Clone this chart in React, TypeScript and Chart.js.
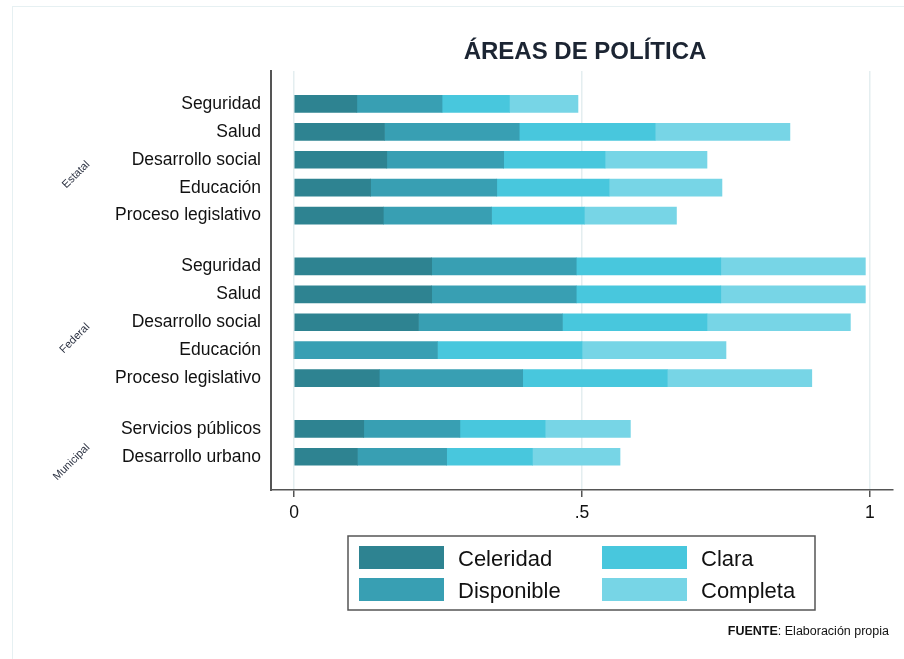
import React, { useEffect, useRef } from "react";
import { Chart, registerables } from "chart.js";

Chart.register(...registerables);

// ---- data ----
const GROUPS = ["Estatal", "Federal", "Municipal"];
const GROUP_SIZES = [5, 5, 2];
const CATEGORIES = [
  "Seguridad", "Salud", "Desarrollo social", "Educación", "Proceso legislativo",
  "Seguridad", "Salud", "Desarrollo social", "Educación", "Proceso legislativo",
  "Servicios públicos", "Desarrollo urbano",
];
const SERIES = ["Celeridad", "Disponible", "Clara", "Completa"];
const CELERIDAD = [0.109, 0.157, 0.161, 0.133, 0.155, 0.239, 0.239, 0.216, 0.0, 0.148, 0.121, 0.11];
const DISPONIBLE = [0.148, 0.234, 0.203, 0.219, 0.188, 0.251, 0.251, 0.25, 0.249, 0.249, 0.167, 0.155];
const CLARA = [0.117, 0.236, 0.176, 0.195, 0.161, 0.251, 0.251, 0.251, 0.251, 0.251, 0.148, 0.149];
const COMPLETA = [0.119, 0.234, 0.177, 0.196, 0.16, 0.251, 0.251, 0.249, 0.25, 0.251, 0.148, 0.152];
const X_TICKS = [0, 0.5, 1];
const X_TICK_LABELS = ["0", ".5", "1"];
const TITLE = "ÁREAS DE POLÍTICA";
const SOURCE_BOLD = "FUENTE";
const SOURCE_TEXT = ": Elaboración propia";

// ---- styles ----
const COLORS = ["#2e8391", "#389fb3", "#48c7dd", "#77d5e6"];
const FONT = "'Liberation Sans', Arial, Helvetica, sans-serif";
const GROUP_GAP = 0.82;

// row positions on the linear index axis, derived from group structure
const POSITIONS: number[] = [];
const GROUP_CENTERS: number[] = [];
{
  let p = 0;
  GROUP_SIZES.forEach((n) => {
    const start = p;
    for (let i = 0; i < n; i++) {
      POSITIONS.push(p);
      p += 1;
    }
    GROUP_CENTERS.push((start + p - 1) / 2);
    p += GROUP_GAP;
  });
}

const decorPlugin = {
  id: "decor",
  beforeDraw(chart: any) {
    const { ctx, width, height } = chart;
    ctx.save();
    ctx.fillStyle = "#ffffff";
    ctx.fillRect(0, 0, width, height);
    ctx.strokeStyle = "#e6f0f2";
    ctx.lineWidth = 1;
    ctx.strokeRect(12.5, 6.5, width + 20, height + 20);
    ctx.restore();
  },
  afterDraw(chart: any) {
    const { ctx } = chart;
    const yScale = chart.scales.y;
    ctx.save();
    // title
    ctx.fillStyle = "#1c2533";
    ctx.font = `bold 24px ${FONT}`;
    ctx.textAlign = "center";
    ctx.textBaseline = "alphabetic";
    ctx.fillText(TITLE, 585, 58.5);

    // group labels
    ctx.font = `11px ${FONT}`;
    ctx.fillStyle = "#2a3040";
    GROUPS.forEach((g, i) => {
      const cy = yScale.getPixelForValue(GROUP_CENTERS[i]);
      ctx.save();
      ctx.translate(88, cy + 3);
      ctx.rotate(-Math.PI / 4);
      ctx.textAlign = "right";
      ctx.textBaseline = "middle";
      ctx.fillText(g, 0, 0);
      ctx.restore();
    });

    // legend box
    ctx.strokeStyle = "#555555";
    ctx.lineWidth = 1.5;
    ctx.strokeRect(348, 536, 467, 74);
    const colX = [359, 602];
    const rowY = [546, 578];
    const baseY = [566, 598];
    ctx.font = `22px ${FONT}`;
    ctx.textAlign = "left";
    SERIES.forEach((s, i) => {
      const c = Math.floor(i / 2);
      const r = i % 2;
      ctx.fillStyle = COLORS[i];
      ctx.fillRect(colX[c], rowY[r], 85, 23);
      ctx.fillStyle = "#111111";
      ctx.fillText(s, colX[c] + 99, baseY[r]);
    });

    // source
    ctx.textAlign = "left";
    ctx.font = `12.5px ${FONT}`;
    const wText = ctx.measureText(SOURCE_TEXT).width;
    ctx.font = `bold 12.5px ${FONT}`;
    const wBold = ctx.measureText(SOURCE_BOLD).width;
    const startX = 889 - wText - wBold;
    ctx.fillStyle = "#111111";
    ctx.fillText(SOURCE_BOLD, startX, 635);
    ctx.font = `12.5px ${FONT}`;
    ctx.fillText(SOURCE_TEXT, startX + wBold, 635);
    ctx.restore();
  },
};

export default function App() {
  const canvasRef = useRef<HTMLCanvasElement | null>(null);

  useEffect(() => {
    if (!canvasRef.current) return;
    const seriesValues = [CELERIDAD, DISPONIBLE, CLARA, COMPLETA];
    const chart = new Chart(canvasRef.current, {
      type: "bar",
      data: {
        datasets: SERIES.map((name, si) => ({
          label: name,
          data: POSITIONS.map((p, i) => ({ x: seriesValues[si][i], y: p })),
          backgroundColor: COLORS[si],
          borderWidth: 0,
          barThickness: 17,
        })),
      },
      options: {
        indexAxis: "y",
        animation: false,
        responsive: false,
        maintainAspectRatio: false,
        layout: { padding: { top: 71, right: 11, left: 0, bottom: 0 } },
        plugins: {
          legend: { display: false },
          tooltip: { enabled: false },
          title: { display: false },
        },
        scales: {
          x: {
            type: "linear",
            stacked: true,
            min: -0.04,
            max: 1.04,
            offset: false,
            afterBuildTicks: (scale: any) => {
              scale.ticks = X_TICKS.map((v) => ({ value: v }));
            },
            afterFit: (scale: any) => {
              scale.height = 169;
            },
            grid: {
              color: "#e4eef0",
              lineWidth: 1.5,
              drawTicks: true,
              tickLength: 7,
              tickColor: "#555555",
              tickWidth: 1.5,
              offset: false,
            },
            border: { display: true, color: "#555555", width: 1.5 },
            ticks: {
              padding: 6,
              color: "#111111",
              font: { family: FONT, size: 17.5 },
              callback: (_v: any, i: number) => X_TICK_LABELS[i],
            },
          },
          y: {
            type: "linear",
            stacked: true,
            reverse: true,
            offset: false,
            grace: 0,
            min: -1.18,
            max: 13.83,
            afterBuildTicks: (scale: any) => {
              scale.ticks = POSITIONS.map((v) => ({ value: v }));
            },
            afterFit: (scale: any) => {
              scale.width = 271;
            },
            grid: {
              color: "rgba(0,0,0,0)",
              drawTicks: false,
              offset: false,
            },
            border: { display: true, color: "#555555", width: 2 },
            ticks: {
              autoSkip: false,
              padding: 10,
              color: "#111111",
              font: { family: FONT, size: 17.5 },
              callback: (_v: any, i: number) => CATEGORIES[i],
            },
          },
        },
      },
      plugins: [decorPlugin],
    } as any);
    return () => chart.destroy();
  }, []);

  return (
    <div style={{ position: "absolute", left: 0, top: 0, width: 904, height: 659, background: "#fff" }}>
      <canvas ref={canvasRef} width={904} height={659} style={{ display: "block", width: 904, height: 659 }} />
    </div>
  );
}
